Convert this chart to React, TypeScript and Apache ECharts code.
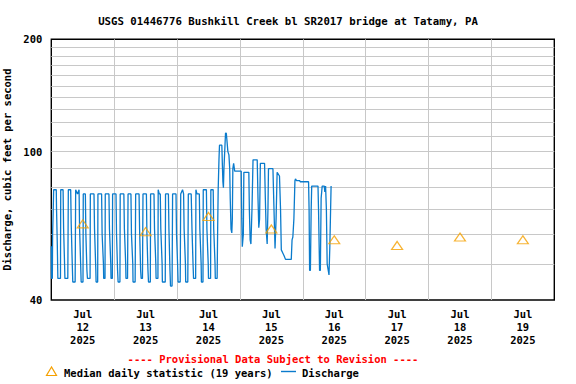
import React, { useEffect, useRef } from "react";
import * as echarts from "echarts";

const TITLE = "USGS 01446776 Bushkill Creek bl SR2017 bridge at Tatamy, PA";
const Y_NAME = "Discharge, cubic feet per second";
const PROVISIONAL = "---- Provisional Data Subject to Revision ----";
const LEGEND_MEDIAN = "Median daily statistic (19 years)";
const LEGEND_FLOW = "Discharge";

const dayLabels = ["12", "13", "14", "15", "16", "17", "18", "19"];
const monthLabel = "Jul";
const yearLabel = "2025";
const yTickLabels = [40, 100, 200];
const yGridValues = [50, 60, 70, 80, 90, 100, 110, 120, 130, 140, 150, 160, 170, 180, 190];

// median daily statistic at noon of each day (cfs)
const medianValues = [64, 61, 67, 62, 58, 56, 59, 58];

// discharge: [hours since Jul 12 00:00, cfs]
const flowJul12: [number, number][] = [
  [0, 55.7], [0.1, 45.7], [0.4, 45.7], [0.5, 60], [0.7, 68], [0.9, 79], [1.9, 79], [2.0, 70], [2.3, 56], [2.5, 45.7],
  [3.5, 45.7], [3.6, 79], [4.5, 79], [4.7, 62], [5.0, 52], [5.2, 45.7], [6.3, 45.7], [6.4, 60], [6.5, 79], [7.4, 79],
  [7.6, 64], [8.0, 50], [8.2, 44.7], [9.1, 44.7], [9.3, 79], [10.0, 77], [10.6, 79], [10.8, 62], [11.2, 50], [11.4, 44.7],
  [12.1, 44.7], [12.2, 77], [13.0, 77], [13.2, 60], [13.6, 48], [13.8, 45.7], [14.8, 45.7], [14.9, 77], [16.3, 77], [16.5, 62],
  [17.0, 48], [17.1, 44.7], [17.7, 44.7], [17.8, 77], [19.2, 77], [19.4, 60], [19.9, 50], [20.0, 45.7], [20.5, 45.7], [20.6, 77],
  [22.0, 77], [22.2, 62], [22.7, 50], [22.8, 45.7], [23.3, 45.7], [23.4, 77],
];
const flowJul13: [number, number][] = [
  [24.7, 77], [24.9, 60], [25.3, 48], [25.5, 44.7], [26.2, 44.7], [26.3, 77], [27.7, 77], [27.9, 62], [28.4, 50], [28.5, 45.7],
  [29.1, 45.7], [29.3, 77], [30.4, 77], [30.6, 60], [31.1, 50], [31.2, 44.7], [32.0, 44.7], [32.2, 77], [33.5, 77], [33.7, 62],
  [34.1, 48], [34.3, 45.7], [34.8, 45.7], [35.0, 77], [36.3, 77], [36.5, 60], [36.9, 48], [37.1, 44.7], [37.8, 44.7], [37.9, 77],
  [39.2, 77], [39.4, 62], [39.9, 50], [40.0, 45.7], [40.7, 45.7], [40.8, 79], [41.2, 77], [41.6, 77], [41.8, 62], [42.3, 50],
  [42.4, 44.7], [43.5, 44.7], [43.6, 77], [44.7, 77], [44.9, 62], [45.3, 48], [45.5, 43.6], [46.1, 43.6], [46.3, 77], [47.6, 77],
];
const flowJul14: [number, number][] = [
  [47.8, 60], [48.2, 50], [48.4, 44.7], [49.2, 44.7], [49.4, 77], [50.1, 79], [50.5, 77], [50.7, 62], [51.2, 50], [51.3, 44.7],
  [52.1, 44.7], [52.3, 77], [53.4, 77], [53.7, 62], [54.1, 50], [54.3, 45.7], [55.1, 45.7], [55.2, 79], [55.6, 77], [56.5, 77],
  [56.7, 62], [57.2, 50], [57.3, 44.7], [57.9, 44.7], [58.0, 79], [59.2, 79], [59.4, 62], [59.9, 50], [60.0, 45.7], [60.8, 45.7],
  [60.9, 79], [61.8, 79], [62.0, 62], [62.5, 50], [62.6, 45.7], [63.3, 45.7], [63.5, 62], [63.7, 79], [64.0, 95], [64.2, 104],
  [65.1, 104], [65.3, 92], [65.5, 83], [65.7, 80], [65.9, 90], [66.3, 104], [66.5, 112], [66.8, 112], [67.0, 108], [67.4, 100],
  [67.8, 98], [68.1, 90], [68.3, 75], [68.6, 62], [68.9, 60.5], [69.1, 66], [69.3, 90], [69.6, 93], [70.0, 88.6],
];
const flowJul15: [number, number][] = [
  [72.5, 88.6], [72.7, 66], [72.9, 55.6], [73.3, 60], [73.5, 88], [75.4, 88], [75.6, 70], [75.9, 58], [76.2, 56.5], [76.6, 70],
  [77.0, 95], [78.6, 95], [78.9, 75], [79.2, 62.5], [79.5, 66], [79.8, 93], [81.4, 93], [81.7, 75], [82.0, 62], [82.4, 56.5],
  [82.7, 70], [82.9, 90], [84.6, 90], [85.0, 70], [85.4, 55], [85.8, 66], [86.2, 88], [87.1, 86], [87.5, 70], [87.8, 54.5],
  [88.4, 53.4], [88.9, 52.5], [89.4, 51.4], [91.6, 51.4], [91.9, 58], [92.2, 59], [92.6, 66], [93.0, 83.6], [93.2, 84.5], [93.6, 83.6],
  [94.8, 83.6], [95.0, 83],
];
const flowJul16: [number, number][] = [
  [98.2, 83], [98.4, 70], [98.6, 48], [98.9, 48], [99.2, 70], [99.4, 80.8], [101.8, 80.8], [102.0, 70], [102.4, 48], [102.7, 48],
  [103.0, 75], [103.4, 80.8], [104.2, 80.8], [104.4, 78], [104.7, 80.8], [105.0, 70], [105.3, 50], [106.0, 46.7], [106.3, 55], [106.8, 80.8],
];

const START = Date.UTC(2025, 6, 12);
const HOUR = 3600 * 1000;
const DAY = 24 * HOUR;

const FONT = "'DejaVu Sans Mono', monospace";
const FLOW_COLOR = "#0a7bcc";
const MEDIAN_COLOR = "#f5a000";

export default function App() {
  const ref = useRef<HTMLDivElement>(null);

  useEffect(() => {
    if (!ref.current) return;
    const chart = echarts.init(ref.current, undefined, { renderer: "svg" });

    const flow = [...flowJul12, ...flowJul13, ...flowJul14, ...flowJul15, ...flowJul16].map(
      ([h, v]) => [START + h * HOUR, v]
    );
    const medians = medianValues.map((v, i) => [START + i * DAY + 12 * HOUR, v]);
    const noonTicks = dayLabels.map((_, i) => START + i * DAY + 12 * HOUR);
    const midnights = dayLabels.slice(1).map((_, i) => START + (i + 1) * DAY);

    const option: any = {
      animation: false,
      backgroundColor: "#ffffff",
      textStyle: { fontFamily: FONT },
      title: {
        text: TITLE,
        left: "center",
        top: 11,
        textStyle: { fontFamily: FONT, fontSize: 10.7, fontWeight: "bold", color: "#000" },
      },
      grid: {
        left: 51.3,
        right: 21.7,
        top: 39.3,
        bottom: 84,
        show: true,
        outerBoundsMode: "none",
        containLabel: false,
        borderColor: "#000",
        borderWidth: 1.4,
        backgroundColor: "transparent",
      },
      xAxis: {
        type: "value",
        min: START,
        max: START + 8 * DAY,
        axisLine: { show: false },
        axisTick: { show: false },
        splitLine: { show: false },
        axisLabel: {
          customValues: noonTicks,
          margin: 7,
          lineHeight: 13,
          fontFamily: FONT,
          fontSize: 10.5,
          fontWeight: "bold",
          color: "#000",
          formatter: (val: number) => {
            const idx = Math.round((val - START - 12 * HOUR) / DAY);
            return `${monthLabel}\n${dayLabels[idx] ?? ""}\n${yearLabel}`;
          },
        },
      },
      yAxis: {
        type: "log",
        logBase: 10,
        min: 40,
        max: 200,
        name: Y_NAME,
        nameLocation: "middle",
        nameGap: 30,
        nameTextStyle: { fontFamily: FONT, fontSize: 10.5, fontWeight: "bold", color: "#000" },
        axisLine: { show: false },
        axisTick: { show: false },
        splitLine: { show: false },
        axisLabel: {
          customValues: yTickLabels,
          margin: 9,
          fontFamily: FONT,
          fontSize: 10.5,
          fontWeight: "bold",
          color: "#000",
          formatter: (v: number) => String(Math.round(v)),
        },
      },
      series: [
        {
          type: "scatter",
          name: LEGEND_MEDIAN,
          data: medians,
          symbol: "triangle",
          symbolSize: [11, 8],
          z: 4,
          itemStyle: { color: "rgba(0,0,0,0)", borderColor: MEDIAN_COLOR, borderWidth: 1.2 },
          markLine: {
            silent: true,
            symbol: "none",
            z: 1,
            label: { show: false },
            emphasis: { disabled: true },
            lineStyle: { color: "#c8c8c8", width: 1, type: "solid" },
            data: [
              ...yGridValues.map((v) => ({ yAxis: v })),
              ...midnights.map((t) => ({ xAxis: t })),
            ],
          },
        },
        {
          type: "line",
          name: LEGEND_FLOW,
          data: flow,
          showSymbol: false,
          symbol: "none",
          z: 3,
          lineStyle: { color: FLOW_COLOR, width: 1.3 },
          itemStyle: { color: FLOW_COLOR },
          emphasis: { disabled: true },
        },
      ],
      graphic: [
        {
          type: "text",
          x: 273,
          y: 359,
          style: {
            text: PROVISIONAL,
            fill: "#ff0000",
            font: `bold 10.5px ${FONT}`,
            textAlign: "center",
            textVerticalAlign: "middle",
          },
        },
        {
          type: "polygon",
          shape: { points: [[51.5, 367], [46.5, 375.5], [56.5, 375.5]] },
          style: { fill: "none", stroke: MEDIAN_COLOR, lineWidth: 1.2 },
        },
        {
          type: "text",
          x: 64,
          y: 372.5,
          style: {
            text: LEGEND_MEDIAN,
            fill: "#000",
            font: `bold 10.5px ${FONT}`,
            textAlign: "left",
            textVerticalAlign: "middle",
          },
        },
        {
          type: "line",
          shape: { x1: 281, y1: 371.5, x2: 296, y2: 371.5 },
          style: { stroke: FLOW_COLOR, lineWidth: 1.4 },
        },
        {
          type: "text",
          x: 302,
          y: 372.5,
          style: {
            text: LEGEND_FLOW,
            fill: "#000",
            font: `bold 10.5px ${FONT}`,
            textAlign: "left",
            textVerticalAlign: "middle",
          },
        },
      ],
    };

    chart.setOption(option);
    return () => chart.dispose();
  }, []);

  return <div ref={ref} style={{ width: 576, height: 384, position: "fixed", left: 0, top: 0 }} />;
}
